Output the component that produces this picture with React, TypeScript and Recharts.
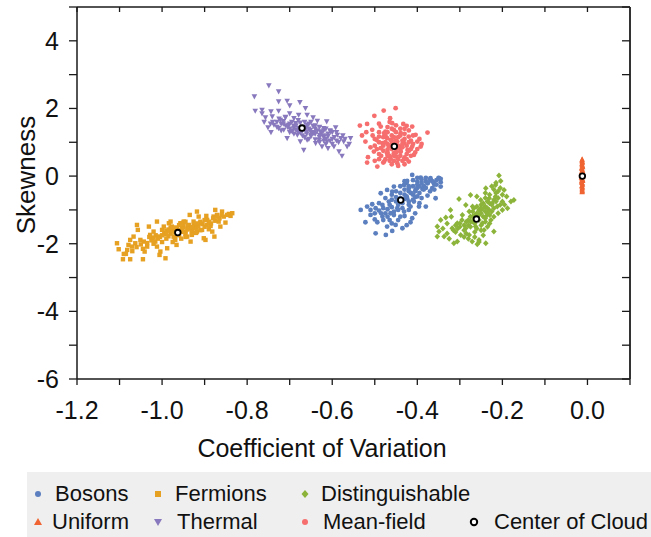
import React from 'react';
import { ScatterChart, Scatter, XAxis, YAxis, Label } from 'recharts';

const FONT = '"Liberation Sans", Arial, sans-serif';

const xTicks = [-1.2, -1.1, -1.0, -0.9, -0.8, -0.7, -0.6, -0.5, -0.4, -0.3, -0.2, -0.1, 0, 0.1];
const yTicks = [-6, -5, -4, -3, -2, -1, 0, 1, 2, 3, 4, 5];

const fermions: [number, number][] = [
  [-1.106, -1.986], [-1.102, -2.163], [-1.092, -2.459], [-1.075, -2.459], [-1.09, -2.302], [-1.082, -2.183],
  [-1.079, -2.035], [-1.075, -1.887], [-1.067, -1.789], [-1.071, -2.085], [-1.063, -1.986], [-1.059, -1.444],
  [-1.057, -1.591], [-1.051, -1.887], [-1.043, -1.937], [-1.045, -2.459], [-1.041, -2.232], [-1.035, -2.085],
  [-1.031, -1.493], [-1.028, -1.739], [-1.024, -1.838], [-1.02, -1.641], [-1.016, -1.937], [-1.012, -1.345],
  [-1.008, -1.789], [-1.012, -2.085], [-1.004, -2.232], [-1.006, -2.331], [-1.0, -1.591], [-0.996, -1.493],
  [-0.992, -1.69], [-0.992, -2.43], [-0.988, -2.134], [-0.984, -1.394], [-0.98, -1.345], [-0.977, -1.493],
  [-0.973, -1.789], [-0.969, -1.887], [-0.966, -2.035], [-0.957, -1.394], [-0.953, -1.542], [-0.949, -1.345],
  [-0.945, -1.641], [-0.941, -1.789], [-0.937, -1.444], [-0.935, -1.148], [-0.933, -1.937], [-0.93, -1.739],
  [-0.926, -1.345], [-0.922, -1.493], [-0.918, -1.049], [-0.918, -1.641], [-0.914, -1.197], [-0.91, -1.394],
  [-0.906, -1.591], [-0.902, -1.838], [-0.898, -1.887], [-0.896, -1.177], [-0.894, -1.296], [-0.89, -1.572],
  [-0.886, -1.473], [-0.882, -1.641], [-0.879, -1.197], [-0.877, -1.789], [-0.875, -1.0], [-0.871, -1.148],
  [-0.867, -1.345], [-0.863, -1.493], [-0.859, -1.049], [-0.855, -1.197], [-0.851, -1.375], [-0.847, -1.148],
  [-0.843, -1.118], [-0.839, -1.177], [-0.835, -1.098],
  [-0.99, -1.62], [-0.98, -1.7], [-0.975, -1.58], [-0.97, -1.66], [-0.965, -1.55], [-0.96, -1.75],
  [-0.955, -1.62], [-0.95, -1.5], [-0.945, -1.7], [-0.94, -1.58], [-0.935, -1.52], [-0.93, -1.62],
  [-0.925, -1.45], [-0.92, -1.55], [-0.915, -1.48], [-0.91, -1.6], [-0.905, -1.42], [-0.9, -1.5],
  [-0.985, -1.78], [-0.97, -1.82], [-0.995, -1.72], [-1.005, -1.8], [-1.015, -1.75], [-1.025, -1.9],
  [-1.03, -1.8], [-0.96, -1.45], [-0.95, -1.38], [-0.94, -1.48], [-0.98, -1.52], [-0.99, -1.85],
  [-1.0, -1.95], [-0.975, -1.95], [-0.955, -1.85], [-0.945, -1.8], [-0.93, -1.72], [-0.92, -1.68],
  [-0.885, -1.4], [-0.895, -1.45], [-0.875, -1.32], [-0.865, -1.25], [-1.05, -2.02], [-1.06, -2.1],
  [-1.045, -2.15], [-1.035, -1.98], [-1.02, -2.0], [-1.085, -2.3], [-1.07, -2.22],
  [-0.965, -1.72], [-0.96, -1.6], [-0.95, -1.65], [-0.94, -1.55], [-0.93, -1.5], [-0.92, -1.4],
  [-0.91, -1.35], [-0.9, -1.3], [-0.98, -1.62], [-0.99, -1.7], [-1.0, -1.75], [-1.01, -1.85],
  [-1.02, -1.82], [-0.985, -1.58], [-0.97, -1.52], [-0.955, -1.42], [-0.945, -1.35], [-0.89, -1.35],
  [-0.88, -1.25], [-0.87, -1.2], [-0.86, -1.15],
];

const thermal: [number, number][] = [
  [-0.749, 2.678], [-0.726, 2.501], [-0.783, 2.353], [-0.706, 2.225], [-0.726, 2.205], [-0.676, 2.185],
  [-0.781, 1.929], [-0.765, 1.959], [-0.744, 1.909], [-0.726, 1.929], [-0.7, 2.087], [-0.663, 2.008],
  [-0.757, 1.732], [-0.741, 1.761], [-0.722, 1.663], [-0.71, 1.732], [-0.69, 1.712], [-0.679, 1.811],
  [-0.659, 1.811], [-0.645, 1.732], [-0.635, 1.633], [-0.613, 1.613], [-0.751, 1.436], [-0.737, 1.515],
  [-0.744, 1.298], [-0.726, 1.416], [-0.714, 1.367], [-0.702, 1.515], [-0.694, 1.318], [-0.686, 1.564],
  [-0.682, 1.219], [-0.706, 1.12], [-0.659, 1.515], [-0.651, 1.367], [-0.643, 1.268], [-0.628, 1.318],
  [-0.62, 1.416], [-0.604, 1.318], [-0.592, 1.436], [-0.588, 1.219], [-0.58, 1.12], [-0.573, 1.022],
  [-0.557, 1.12], [-0.631, 1.071], [-0.612, 1.022], [-0.596, 0.874], [-0.584, 0.726], [-0.565, 0.874],
  [-0.577, 0.598], [-0.667, 0.775], [-0.624, 0.874], [-0.61, 0.825], [-0.639, 0.972], [-0.675, 1.022],
  [-0.659, 1.071],
  [-0.68, 1.42], [-0.67, 1.35], [-0.66, 1.45], [-0.65, 1.3], [-0.64, 1.4], [-0.69, 1.48], [-0.7, 1.4],
  [-0.71, 1.5], [-0.66, 1.25], [-0.65, 1.18], [-0.63, 1.22], [-0.62, 1.15], [-0.61, 1.25], [-0.6, 1.1],
  [-0.62, 1.35], [-0.64, 1.08], [-0.675, 1.28], [-0.685, 1.36], [-0.72, 1.55], [-0.73, 1.45], [-0.695, 1.6],
  [-0.655, 1.55], [-0.645, 1.48], [-0.6, 1.3], [-0.59, 1.05], [-0.615, 0.95], [-0.63, 1.0], [-0.665, 1.15],
  [-0.675, 1.58], [-0.715, 1.62],
  [-0.715, 1.55], [-0.705, 1.45], [-0.7, 1.55], [-0.695, 1.35], [-0.69, 1.42], [-0.685, 1.5], [-0.68, 1.3],
  [-0.67, 1.45], [-0.665, 1.38], [-0.66, 1.32], [-0.655, 1.4], [-0.65, 1.22], [-0.645, 1.3], [-0.64, 1.25],
  [-0.635, 1.35], [-0.63, 1.15], [-0.625, 1.28], [-0.62, 1.2], [-0.615, 1.1], [-0.61, 1.18], [-0.605, 1.05],
  [-0.595, 1.15], [-0.585, 1.0], [-0.6, 0.95], [-0.62, 1.05], [-0.655, 1.1], [-0.67, 1.2], [-0.69, 1.25],
  [-0.7, 1.3], [-0.72, 1.35], [-0.73, 1.6], [-0.74, 1.6], [-0.725, 1.7], [-0.71, 1.75], [-0.68, 1.65],
  [-0.665, 1.6], [-0.65, 1.6], [-0.64, 1.5], [-0.63, 1.45], [-0.615, 1.4], [-0.605, 1.35], [-0.59, 1.3],
  [-0.575, 1.2], [-0.57, 1.1], [-0.56, 0.95], [-0.76, 1.6], [-0.745, 1.55], [-0.765, 1.85], [-0.7, 1.85],
];

const meanField: [number, number][] = [
  [-0.451, 2.007], [-0.479, 1.938], [-0.501, 1.781], [-0.464, 1.712], [-0.535, 1.495], [-0.518, 1.544],
  [-0.506, 1.367], [-0.486, 1.465], [-0.459, 1.564], [-0.433, 1.544], [-0.425, 1.485], [-0.412, 1.465],
  [-0.376, 1.288], [-0.522, 1.021], [-0.496, 1.071], [-0.478, 1.268], [-0.471, 1.12], [-0.439, 1.268],
  [-0.42, 1.169], [-0.4, 1.021], [-0.392, 0.873], [-0.502, 0.725], [-0.486, 0.824], [-0.471, 0.676],
  [-0.439, 0.725], [-0.423, 0.775], [-0.408, 0.627], [-0.516, 0.558], [-0.518, 0.4], [-0.494, 0.282],
  [-0.478, 0.43], [-0.463, 0.528], [-0.447, 0.38], [-0.431, 0.499], [-0.42, 0.43], [-0.482, 0.972],
  [-0.463, 1.071], [-0.447, 1.021], [-0.431, 0.972], [-0.467, 0.873], [-0.439, 0.873], [-0.455, 0.676],
  [-0.475, 1.317], [-0.49, 1.169], [-0.412, 0.873], [-0.404, 1.219], [-0.455, 1.367],
  [-0.46, 0.95], [-0.45, 1.05], [-0.44, 0.8], [-0.47, 0.78], [-0.445, 1.15], [-0.475, 1.0], [-0.435, 0.95],
  [-0.465, 0.6], [-0.425, 0.65], [-0.415, 1.05], [-0.485, 0.6], [-0.455, 0.45], [-0.43, 0.35], [-0.49, 0.5],
  [-0.44, 1.4], [-0.47, 1.45], [-0.415, 0.8], [-0.5, 0.9], [-0.45, 0.58], [-0.46, 1.2], [-0.43, 1.1],
  [-0.49, 1.3], [-0.48, 1.15], [-0.47, 1.3], [-0.46, 1.4], [-0.45, 1.3], [-0.44, 1.2], [-0.43, 1.25],
  [-0.42, 1.35], [-0.41, 1.2], [-0.5, 1.1], [-0.49, 1.0], [-0.48, 0.9], [-0.47, 0.95], [-0.46, 1.05],
  [-0.455, 0.95], [-0.445, 0.9], [-0.435, 0.85], [-0.425, 0.9], [-0.42, 1.0], [-0.41, 0.95], [-0.4, 0.8],
  [-0.405, 0.7], [-0.415, 0.6], [-0.43, 0.55], [-0.44, 0.6], [-0.45, 0.7], [-0.46, 0.8], [-0.47, 0.7],
  [-0.48, 0.75], [-0.49, 0.65], [-0.495, 0.8], [-0.505, 1.2], [-0.51, 0.85], [-0.475, 0.5], [-0.465, 0.45],
  [-0.445, 0.5], [-0.435, 0.45], [-0.425, 0.5], [-0.445, 0.3], [-0.46, 0.35], [-0.48, 0.4], [-0.5, 0.45],
  [-0.42, 0.75], [-0.395, 1.1], [-0.39, 0.95], [-0.43, 1.4], [-0.45, 1.5], [-0.465, 1.6], [-0.49, 1.55],
  [-0.52, 1.3], [-0.53, 1.2], [-0.475, 1.2], [-0.455, 1.15], [-0.435, 1.05], [-0.465, 0.9], [-0.45, 0.8],
  [-0.44, 0.72], [-0.455, 0.6], [-0.47, 0.6],
];

const bosons: [number, number][] = [
  [-0.412, 0.035], [-0.392, -0.044], [-0.369, -0.064], [-0.349, -0.064], [-0.376, -0.211], [-0.361, -0.211],
  [-0.4, -0.162], [-0.424, -0.142], [-0.431, -0.261], [-0.455, -0.31], [-0.471, -0.409], [-0.486, -0.507],
  [-0.459, -0.458], [-0.42, -0.359], [-0.404, -0.409], [-0.388, -0.379], [-0.365, -0.359], [-0.376, -0.576],
  [-0.357, -0.655], [-0.345, -0.31], [-0.518, -0.902], [-0.533, -1.0], [-0.506, -0.833], [-0.498, -0.951],
  [-0.482, -0.853], [-0.467, -0.754], [-0.424, -0.655], [-0.408, -0.754], [-0.396, -0.902], [-0.38, -0.902],
  [-0.416, -0.902], [-0.447, -0.951], [-0.431, -1.05], [-0.463, -1.099], [-0.482, -1.198], [-0.51, -1.148],
  [-0.522, -1.365], [-0.494, -1.365], [-0.471, -1.493], [-0.451, -1.444], [-0.435, -1.543], [-0.412, -1.247],
  [-0.416, -1.365], [-0.498, -1.691], [-0.474, -1.74], [-0.459, -1.622],
  [-0.43, -0.55], [-0.42, -0.45], [-0.41, -0.3], [-0.4, -0.25], [-0.39, -0.2], [-0.38, -0.15], [-0.37, -0.1],
  [-0.41, -0.55], [-0.395, -0.5], [-0.42, -0.75], [-0.435, -0.8], [-0.45, -0.62], [-0.445, -0.85],
  [-0.46, -0.92], [-0.455, -1.05], [-0.47, -0.98], [-0.475, -1.1], [-0.44, -1.2], [-0.4, -0.35],
  [-0.385, -0.4], [-0.36, -0.25], [-0.355, -0.12], [-0.345, -0.18], [-0.35, -0.05], [-0.425, -0.2],
  [-0.405, -0.62], [-0.49, -1.02], [-0.5, -1.28], [-0.465, -1.3], [-0.43, -1.18],
  [-0.44, -0.65], [-0.43, -0.68], [-0.425, -0.6], [-0.415, -0.5], [-0.405, -0.45], [-0.395, -0.3],
  [-0.385, -0.28], [-0.375, -0.2], [-0.365, -0.15], [-0.355, -0.25], [-0.345, -0.08], [-0.38, -0.05],
  [-0.39, -0.1], [-0.4, -0.05], [-0.41, -0.12], [-0.42, -0.3], [-0.43, -0.4], [-0.44, -0.5], [-0.45, -0.75],
  [-0.46, -0.7], [-0.465, -0.85], [-0.48, -0.95], [-0.485, -1.1], [-0.47, -1.2], [-0.455, -1.15],
  [-0.445, -1.0], [-0.435, -0.95], [-0.42, -0.85], [-0.41, -0.7], [-0.4, -0.6], [-0.39, -0.65],
  [-0.37, -0.45], [-0.36, -0.4], [-0.38, -0.35], [-0.5, -1.1], [-0.51, -1.0], [-0.49, -0.8], [-0.475, -0.65],
  [-0.46, -0.55], [-0.45, -0.45], [-0.44, -0.3], [-0.43, -0.15], [-0.395, -0.8], [-0.42, -1.0],
  [-0.405, -1.1], [-0.46, -1.4], [-0.48, -1.3], [-0.445, -1.3], [-0.425, -1.45],
];

const distinguishable: [number, number][] = [
  [-0.208, 0.015], [-0.204, -0.142], [-0.216, -0.261], [-0.239, -0.359], [-0.196, -0.409], [-0.275, -0.557],
  [-0.302, -0.675], [-0.173, -0.705], [-0.188, -0.951], [-0.216, -0.606], [-0.231, -0.655], [-0.251, -0.705],
  [-0.322, -1.0], [-0.333, -1.227], [-0.345, -1.296], [-0.353, -1.493], [-0.349, -1.642], [-0.337, -1.789],
  [-0.353, -1.789], [-0.318, -1.543], [-0.306, -1.395], [-0.298, -1.74], [-0.314, -1.987], [-0.306, -1.937],
  [-0.278, -1.74], [-0.271, -1.937], [-0.259, -2.016], [-0.255, -1.888], [-0.239, -1.987], [-0.22, -1.642],
  [-0.243, -1.592], [-0.286, -1.543], [-0.294, -1.148], [-0.278, -1.05], [-0.286, -0.853], [-0.267, -0.951],
  [-0.251, -0.951], [-0.231, -1.0], [-0.224, -0.803], [-0.212, -0.902], [-0.2, -0.754], [-0.239, -1.198],
  [-0.227, -1.296], [-0.247, -1.395], [-0.271, -1.346], [-0.263, -1.493], [-0.275, -1.198], [-0.255, -1.148],
  [-0.26, -1.1], [-0.25, -1.0], [-0.24, -0.9], [-0.245, -1.2], [-0.255, -1.3], [-0.235, -1.1], [-0.23, -0.8],
  [-0.22, -0.7], [-0.27, -1.2], [-0.265, -1.4], [-0.28, -1.3], [-0.275, -1.5], [-0.25, -1.45], [-0.24, -1.35],
  [-0.225, -1.05], [-0.215, -0.5], [-0.21, -0.45], [-0.205, -0.35], [-0.23, -0.55], [-0.24, -0.65],
  [-0.29, -1.6], [-0.3, -1.5], [-0.31, -1.65], [-0.285, -1.7], [-0.265, -1.65], [-0.245, -1.75],
  [-0.19, -0.6], [-0.18, -0.75], [-0.33, -1.4], [-0.32, -1.2],
  [-0.27, -1.05], [-0.265, -1.15], [-0.26, -1.25], [-0.255, -1.0], [-0.25, -1.1], [-0.245, -0.95],
  [-0.24, -1.05], [-0.235, -0.95], [-0.23, -1.15], [-0.225, -0.85], [-0.22, -0.95], [-0.215, -0.75],
  [-0.21, -0.65], [-0.2, -0.55], [-0.205, -0.85], [-0.235, -0.75], [-0.245, -0.8], [-0.25, -0.85],
  [-0.26, -0.9], [-0.27, -0.9], [-0.275, -1.35], [-0.28, -1.45], [-0.285, -1.35], [-0.29, -1.45],
  [-0.295, -1.3], [-0.3, -1.4], [-0.305, -1.55], [-0.31, -1.45], [-0.315, -1.6], [-0.29, -1.8],
  [-0.28, -1.85], [-0.26, -1.55], [-0.25, -1.6], [-0.235, -1.5], [-0.23, -1.4], [-0.22, -1.2],
  [-0.21, -1.1], [-0.2, -1.0], [-0.195, -0.85], [-0.22, -0.4], [-0.225, -0.3], [-0.215, -0.2],
  [-0.24, -0.5], [-0.26, -0.6], [-0.33, -1.7], [-0.34, -1.55], [-0.325, -1.85], [-0.265, -1.8],
  [-0.255, -1.95], [-0.24, -1.25],
];

const uniform: [number, number][] = [
  [-0.0125, 0.5], [-0.012, 0.42], [-0.013, 0.35], [-0.0115, 0.3], [-0.0135, 0.25], [-0.012, 0.2],
  [-0.011, 0.15], [-0.014, 0.12], [-0.0125, 0.08], [-0.0105, 0.05], [-0.0145, 0.02], [-0.012, 0.0],
  [-0.0115, -0.03], [-0.0135, -0.06], [-0.0125, -0.1], [-0.011, -0.14], [-0.014, -0.18], [-0.012, -0.22],
  [-0.013, -0.28], [-0.0115, -0.33], [-0.0125, -0.38], [-0.012, -0.44], [-0.013, 0.46], [-0.0125, -0.47],
  [-0.0125, 0.48], [-0.0125, 0.44], [-0.012, 0.39], [-0.013, 0.37], [-0.0125, 0.32], [-0.011, 0.27],
  [-0.014, 0.22], [-0.0125, 0.17], [-0.0105, 0.1], [-0.0145, 0.07], [-0.0125, 0.03], [-0.0105, -0.01],
  [-0.0145, -0.04], [-0.0125, -0.08], [-0.011, -0.12], [-0.014, -0.15], [-0.0125, -0.2], [-0.0115, -0.25],
  [-0.0135, -0.3], [-0.0125, -0.35], [-0.0125, -0.41], [-0.0125, -0.45],
];

const centers: [number, number][] = [
  [-0.439, -0.71], [-0.963, -1.67], [-0.261, -1.27], [-0.012, 0.0], [-0.671, 1.42], [-0.454, 0.88],
];

const COLORS = {
  bosons: '#5b7fbf',
  fermions: '#e6a022',
  distinguishable: '#8cb43a',
  uniform: '#ef6432',
  thermal: '#8878bd',
  meanField: '#f66e6e',
};

const toPts = (arr: [number, number][]) => arr.map(([x, y]) => ({ x, y }));

const circleShape = (color: string) => (p: any) => <circle cx={p.cx} cy={p.cy} r={2.4} fill={color} />;
const squareShape = (color: string) => (p: any) => <rect x={p.cx - 2.2} y={p.cy - 2.2} width={4.4} height={4.4} fill={color} />;
const diamondShape = (color: string) => (p: any) => (
  <polygon points={`${p.cx},${p.cy - 3} ${p.cx + 2.8},${p.cy} ${p.cx},${p.cy + 3} ${p.cx - 2.8},${p.cy}`} fill={color} />
);
const triUpShape = (color: string) => (p: any) => (
  <polygon points={`${p.cx},${p.cy - 3} ${p.cx + 2.6},${p.cy + 2.2} ${p.cx - 2.6},${p.cy + 2.2}`} fill={color} />
);
const triDownShape = (color: string) => (p: any) => (
  <polygon points={`${p.cx - 2.8},${p.cy - 2.2} ${p.cx + 2.8},${p.cy - 2.2} ${p.cx},${p.cy + 3}`} fill={color} />
);
const centerShape = (p: any) => <circle cx={p.cx} cy={p.cy} r={2.8} fill="#fff" stroke="#000" strokeWidth={1.8} />;

const XTick = (props: any) => {
  const { x, y, payload } = props;
  const v = payload.value;
  if (Math.round(v * 10) % 2 !== 0 || v > 0.05) return <g />;
  return (
    <text x={x} y={y} dy={30} textAnchor="middle" fontFamily={FONT} fontSize={25} fill="#111">
      {v.toFixed(1)}
    </text>
  );
};

const YTick = (props: any) => {
  const { x, y, payload } = props;
  const v = payload.value;
  if (Math.abs(v) % 2 !== 0) return <g />;
  return (
    <text x={x} y={y} dy={9} textAnchor="end" fontFamily={FONT} fontSize={25} fill="#111">
      {v}
    </text>
  );
};

const legendItems = [
  { label: 'Bosons', mx: 10.5, tx: 28, row: 0, kind: 'circle', color: COLORS.bosons },
  { label: 'Fermions', mx: 131, tx: 148, row: 0, kind: 'square', color: COLORS.fermions },
  { label: 'Distinguishable', mx: 278, tx: 294, row: 0, kind: 'diamond', color: COLORS.distinguishable },
  { label: 'Uniform', mx: 10.5, tx: 25, row: 1, kind: 'triUp', color: COLORS.uniform },
  { label: 'Thermal', mx: 131, tx: 150, row: 1, kind: 'triDown', color: COLORS.thermal },
  { label: 'Mean-field', mx: 278, tx: 296, row: 1, kind: 'circle', color: COLORS.meanField },
  { label: 'Center of Cloud', mx: 447, tx: 467, row: 1, kind: 'center', color: '#000' },
];

const LegendMarker = ({ kind, color }: { kind: string; color: string }) => {
  let el: any = null;
  if (kind === 'circle') el = <circle cx={6} cy={6} r={3} fill={color} />;
  if (kind === 'square') el = <rect x={3} y={3} width={6} height={6} fill={color} />;
  if (kind === 'diamond') el = <polygon points="6,2 9.5,6 6,10 2.5,6" fill={color} />;
  if (kind === 'triUp') el = <polygon points="6,2 10,9 2,9" fill={color} />;
  if (kind === 'triDown') el = <polygon points="2,3 10,3 6,10" fill={color} />;
  if (kind === 'center') el = <circle cx={6} cy={6} r={3.2} fill="#fff" stroke="#000" strokeWidth={2} />;
  return (
    <svg width={12} height={12} style={{ display: 'block' }}>
      {el}
    </svg>
  );
};

export default function App() {
  const axisLine = { stroke: '#1a1a1a', strokeWidth: 1.5 };
  return (
    <div style={{ position: 'absolute', left: 0, top: 0, width: 651, height: 537, background: '#fff' }}>
      <ScatterChart width={651} height={470} margin={{ top: 7, right: 21, left: 17, bottom: 51 }}>
        <XAxis
          xAxisId="b"
          type="number"
          dataKey="x"
          domain={[-1.2, 0.1]}
          ticks={xTicks}
          interval={0}
          allowDataOverflow
          height={40}
          tickSize={6}
          tickMargin={4}
          axisLine={axisLine}
          tickLine={{ stroke: '#1a1a1a', strokeWidth: 1.3 }}
          tick={<XTick />}
        >
          <Label
            content={(p: any) => {
              const vb = p.viewBox || {};
              return (
                <text x={322} y={vb.y + 78} textAnchor="middle" fontFamily={FONT} fontSize={25} fill="#111">
                  Coefficient of Variation
                </text>
              );
            }}
          />
        </XAxis>
        <XAxis
          xAxisId="t"
          orientation="top"
          type="number"
          dataKey="x"
          domain={[-1.2, 0.1]}
          ticks={xTicks}
          interval={0}
          allowDataOverflow
          mirror
          height={1}
          tickSize={5}
          axisLine={axisLine}
          tickLine={{ stroke: '#1a1a1a', strokeWidth: 1.3 }}
          tick={<g />}
        />
        <YAxis
          yAxisId="l"
          type="number"
          dataKey="y"
          domain={[-6, 5]}
          ticks={yTicks}
          interval={0}
          allowDataOverflow
          width={60}
          tickSize={8}
          tickMargin={10}
          axisLine={axisLine}
          tickLine={{ stroke: '#1a1a1a', strokeWidth: 1.3 }}
          tick={<YTick />}
        >
          <Label
            content={() => {
              const cx = 26;
              const cy = 175;
              return (
                <text
                  x={cx}
                  y={cy}
                  transform={`rotate(-90 ${cx} ${cy})`}
                  textAnchor="middle"
                  dominantBaseline="central"
                  fontFamily={FONT}
                  fontSize={26}
                  fill="#111"
                >
                  Skewness
                </text>
              );
            }}
          />
        </YAxis>
        <YAxis
          yAxisId="r"
          orientation="right"
          type="number"
          dataKey="y"
          domain={[-6, 5]}
          ticks={yTicks}
          interval={0}
          allowDataOverflow
          mirror
          width={1}
          tickSize={8}
          axisLine={{ stroke: '#333', strokeWidth: 2 }}
          tickLine={{ stroke: '#1a1a1a', strokeWidth: 1.3 }}
          tick={<g />}
        />
        <Scatter xAxisId="t" yAxisId="r" data={toPts(centers)} shape={() => <g />} isAnimationActive={false} />
        <Scatter name="Bosons" xAxisId="b" yAxisId="l" data={toPts(bosons)} shape={circleShape(COLORS.bosons)} isAnimationActive={false} />
        <Scatter name="Fermions" xAxisId="b" yAxisId="l" data={toPts(fermions)} shape={squareShape(COLORS.fermions)} isAnimationActive={false} />
        <Scatter name="Distinguishable" xAxisId="b" yAxisId="l" data={toPts(distinguishable)} shape={diamondShape(COLORS.distinguishable)} isAnimationActive={false} />
        <Scatter name="Uniform" xAxisId="b" yAxisId="l" data={toPts(uniform)} shape={triUpShape(COLORS.uniform)} isAnimationActive={false} />
        <Scatter name="Thermal" xAxisId="b" yAxisId="l" data={toPts(thermal)} shape={triDownShape(COLORS.thermal)} isAnimationActive={false} />
        <Scatter name="Mean-field" xAxisId="b" yAxisId="l" data={toPts(meanField)} shape={circleShape(COLORS.meanField)} isAnimationActive={false} />
        <Scatter name="Center of Cloud" xAxisId="b" yAxisId="l" data={toPts(centers)} shape={centerShape} isAnimationActive={false} />
      </ScatterChart>
      <div
        style={{
          position: 'absolute',
          left: 27,
          top: 472,
          width: 624,
          height: 65,
          background: '#efefef',
          fontFamily: FONT,
          fontSize: 22,
          color: '#111',
        }}
      >
        {legendItems.map((it) => {
          const cy = it.row === 0 ? 22 : 50;
          return (
            <React.Fragment key={it.label}>
              <div style={{ position: 'absolute', left: it.mx - 6, top: cy - 6 }}>
                <LegendMarker kind={it.kind} color={it.color} />
              </div>
              <div style={{ position: 'absolute', left: it.tx, top: cy - 13, height: 26, lineHeight: '26px', whiteSpace: 'nowrap' }}>
                {it.label}
              </div>
            </React.Fragment>
          );
        })}
      </div>
    </div>
  );
}
